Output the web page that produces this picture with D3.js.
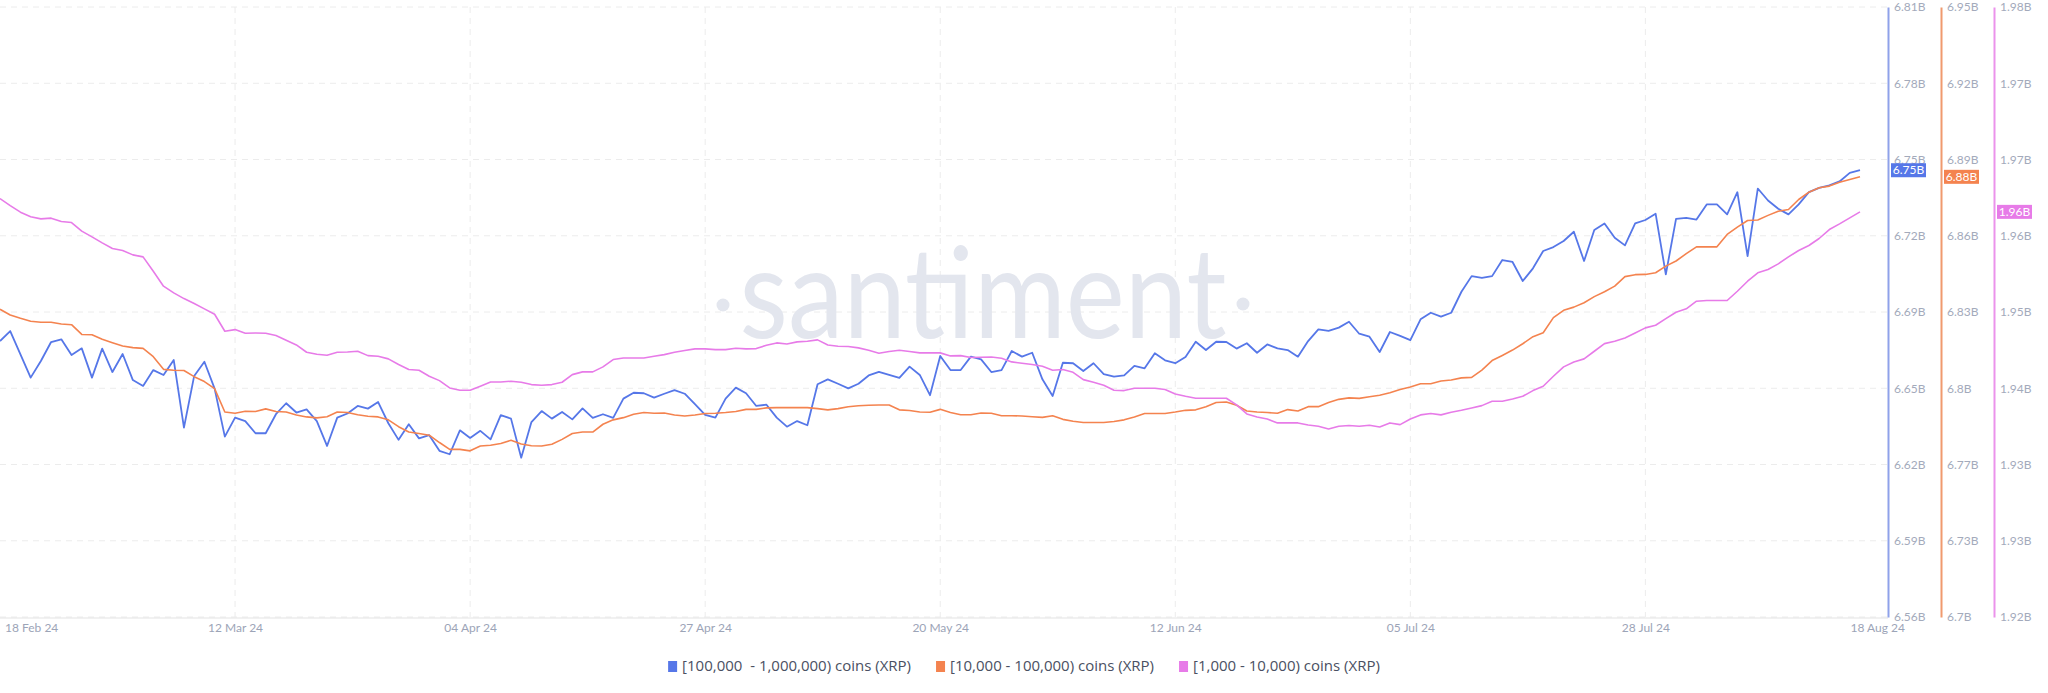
<!DOCTYPE html>
<html>
<head>
<meta charset="utf-8">
<script src="https://cdn.jsdelivr.net/npm/d3@7"></script>
<style>
  body { margin: 0; background: #fff; }
  svg { display: block; font-family: Lato, "Open Sans", sans-serif; }
</style>
</head>
<body>
<div id="viz"></div>
<script>
// daily values from 18 Feb 24, in billions of XRP
const startDate = "2024-02-18";

const blueValues = [
  6.6756, 6.6797, 6.6701, 6.6606, 6.6674, 6.6752, 6.6763, 6.6699, 6.6726, 6.6606, 6.6725, 6.6629, 6.6703, 6.6596, 6.6572, 6.6637, 6.6617, 6.6678, 6.6401, 6.6613, 6.6671, 6.6561, 6.6364, 6.6442, 6.6428, 6.6378, 6.6378,
  6.6456, 6.6501, 6.6463, 6.6476, 6.6428, 6.6326, 6.6442, 6.6459, 6.6490, 6.6479, 6.6506, 6.6419, 6.6351, 6.6415, 6.6357, 6.6370, 6.6306, 6.6292, 6.6390, 6.6359, 6.6388, 6.6353, 6.6452, 6.6438, 6.6278, 6.6424,
  6.6469, 6.6438, 6.6465, 6.6435, 6.6480, 6.6441, 6.6456, 6.6441, 6.6520, 6.6544, 6.6542, 6.6524, 6.6540, 6.6555, 6.6540, 6.6497, 6.6453, 6.6442, 6.6520, 6.6565, 6.6542, 6.6490, 6.6495, 6.6442, 6.6405, 6.6428,
  6.6411, 6.6579, 6.6599, 6.6581, 6.6562, 6.6581, 6.6615, 6.6630, 6.6617, 6.6605, 6.6651, 6.6617, 6.6534, 6.6695, 6.6637, 6.6637, 6.6692, 6.6681, 6.6629, 6.6637, 6.6715, 6.6692, 6.6708, 6.6599, 6.6531, 6.6667,
  6.6665, 6.6633, 6.6665, 6.6620, 6.6610, 6.6615, 6.6654, 6.6644, 6.6706, 6.6677, 6.6665, 6.6691, 6.6753, 6.6719, 6.6753, 6.6752, 6.6725, 6.6747, 6.6708, 6.6742, 6.6726, 6.6719, 6.6692, 6.6756, 6.6804, 6.6798,
  6.6811, 6.6835, 6.6786, 6.6774, 6.6711, 6.6793, 6.6777, 6.6760, 6.6845, 6.6872, 6.6856, 6.6872, 6.6958, 6.7022, 6.7015, 6.7022, 6.7088, 6.7080, 6.7002, 6.7054, 6.7125, 6.7141, 6.7166, 6.7204, 6.7084, 6.7211,
  6.7238, 6.7179, 6.7148, 6.7238, 6.7252, 6.7278, 6.7029, 6.7257, 6.7261, 6.7254, 6.7316, 6.7316, 6.7275, 6.7366, 6.7104, 6.7381, 6.7332, 6.7298, 6.7275, 6.7316, 6.7366, 6.7384, 6.7394, 6.7410, 6.7445, 6.7456
];

const orangeValues = [
  6.8261, 6.8238, 6.8224, 6.8212, 6.8208, 6.8208, 6.8201, 6.8198, 6.8158, 6.8157, 6.8138, 6.8124, 6.8111, 6.8104, 6.8101, 6.8067, 6.8015, 6.8011, 6.8010, 6.7985, 6.7965, 6.7936, 6.7840, 6.7835, 6.7843, 6.7842, 6.7853,
  6.7842, 6.7840, 6.7828, 6.7820, 6.7816, 6.7821, 6.7840, 6.7838, 6.7829, 6.7823, 6.7820, 6.7808, 6.7780, 6.7758, 6.7752, 6.7745, 6.7715, 6.7687, 6.7687, 6.7681, 6.7701, 6.7704, 6.7711, 6.7724, 6.7709, 6.7702,
  6.7701, 6.7708, 6.7728, 6.7752, 6.7758, 6.7758, 6.7790, 6.7808, 6.7817, 6.7831, 6.7838, 6.7835, 6.7836, 6.7828, 6.7824, 6.7828, 6.7834, 6.7835, 6.7838, 6.7842, 6.7851, 6.7851, 6.7857, 6.7858, 6.7858, 6.7858,
  6.7858, 6.7854, 6.7849, 6.7854, 6.7862, 6.7866, 6.7868, 6.7869, 6.7869, 6.7849, 6.7846, 6.7840, 6.7839, 6.7851, 6.7838, 6.7829, 6.7829, 6.7836, 6.7835, 6.7825, 6.7825, 6.7824, 6.7821, 6.7818, 6.7825, 6.7810,
  6.7802, 6.7797, 6.7797, 6.7797, 6.7801, 6.7808, 6.7820, 6.7834, 6.7834, 6.7834, 6.7840, 6.7847, 6.7849, 6.7862, 6.7879, 6.7881, 6.7868, 6.7844, 6.7840, 6.7838, 6.7835, 6.7850, 6.7844, 6.7862, 6.7862, 6.7879,
  6.7892, 6.7898, 6.7896, 6.7903, 6.7909, 6.7919, 6.7932, 6.7943, 6.7956, 6.7956, 6.7967, 6.7971, 6.7980, 6.7982, 6.8012, 6.8051, 6.8072, 6.8094, 6.8120, 6.8149, 6.8165, 6.8227, 6.8257, 6.8270, 6.8288, 6.8313,
  6.8333, 6.8356, 6.8395, 6.8403, 6.8404, 6.8411, 6.8438, 6.8459, 6.8489, 6.8517, 6.8517, 6.8517, 6.8568, 6.8598, 6.8625, 6.8627, 6.8646, 6.8663, 6.8670, 6.8711, 6.8741, 6.8759, 6.8766, 6.8782, 6.8793, 6.8804
];

const pinkValues = [
  1.96116, 1.96047, 1.95982, 1.95936, 1.95916, 1.95923, 1.95890, 1.95880, 1.95795, 1.95739, 1.95680, 1.95624, 1.95605, 1.95562, 1.95542, 1.95401, 1.95254, 1.95188, 1.95132, 1.95083, 1.95031, 1.94978, 1.94811, 1.94827, 1.94791, 1.94794, 1.94791,
  1.94768, 1.94722, 1.94676, 1.94604, 1.94584, 1.94575, 1.94604, 1.94607, 1.94614, 1.94571, 1.94565, 1.94539, 1.94483, 1.94434, 1.94427, 1.94368, 1.94325, 1.94253, 1.94230, 1.94230, 1.94270, 1.94312, 1.94312, 1.94319, 1.94309, 1.94286,
  1.94279, 1.94286, 1.94309, 1.94384, 1.94411, 1.94411, 1.94460, 1.94532, 1.94548, 1.94548, 1.94548, 1.94565, 1.94581, 1.94604, 1.94621, 1.94637, 1.94637, 1.94630, 1.94630, 1.94644, 1.94637, 1.94640, 1.94673, 1.94696, 1.94686, 1.94706,
  1.94712, 1.94726, 1.94676, 1.94663, 1.94660, 1.94647, 1.94624, 1.94594, 1.94611, 1.94624, 1.94611, 1.94598, 1.94598, 1.94598, 1.94568, 1.94571, 1.94552, 1.94555, 1.94558, 1.94545, 1.94509, 1.94496, 1.94483, 1.94466, 1.94427, 1.94434,
  1.94407, 1.94335, 1.94309, 1.94279, 1.94230, 1.94227, 1.94250, 1.94250, 1.94250, 1.94237, 1.94194, 1.94171, 1.94152, 1.94152, 1.94152, 1.94152, 1.94086, 1.93997, 1.93968, 1.93948, 1.93909, 1.93909, 1.93909, 1.93889, 1.93876, 1.93850,
  1.93876, 1.93883, 1.93876, 1.93886, 1.93869, 1.93909, 1.93892, 1.93948, 1.93988, 1.94001, 1.93988, 1.94014, 1.94033, 1.94056, 1.94079, 1.94122, 1.94122, 1.94145, 1.94171, 1.94227, 1.94270, 1.94368, 1.94460, 1.94509, 1.94539, 1.94614,
  1.94689, 1.94712, 1.94745, 1.94794, 1.94844, 1.94870, 1.94935, 1.94998, 1.95031, 1.95106, 1.95113, 1.95113, 1.95113, 1.95204, 1.95303, 1.95385, 1.95418, 1.95473, 1.95542, 1.95605, 1.95654, 1.95723, 1.95811, 1.95867, 1.95926, 1.95985
];

const seriesNames = [
  "[100,000  - 1,000,000) coins (XRP)",
  "[10,000 - 100,000) coins (XRP)",
  "[1,000 - 10,000) coins (XRP)"
];

const gridDates = ["2024-03-12", "2024-04-04", "2024-04-27", "2024-05-20", "2024-06-12", "2024-07-05", "2024-07-28"];
const edgeDates = ["2024-02-18", "2024-08-18"];

const blueTickLabels = ["6.56B", "6.59B", "6.62B", "6.65B", "6.69B", "6.72B", "6.75B", "6.78B", "6.81B"];
const orangeTickLabels = ["6.7B", "6.73B", "6.77B", "6.8B", "6.83B", "6.86B", "6.89B", "6.92B", "6.95B"];
const pinkTickLabels = ["1.92B", "1.93B", "1.93B", "1.94B", "1.95B", "1.96B", "1.97B", "1.97B", "1.98B"];

const blueDomain = [6.5625, 6.8125];
const orangeDomain = [6.70, 6.95];
const pinkDomain = [1.92, 1.98];

// ---- layout
const W = 2048, H = 693;
const plotTop = 7, plotBottom = 617, plotRight = 1888;
const parse = d3.timeParse("%Y-%m-%d");
const fmt = d3.timeFormat("%d %b %y");
const start = parse(startDate);
const dates = blueValues.map((_, i) => d3.timeDay.offset(start, i));
const tickColor = "#9ca4b7";

const x = d3.scaleTime()
  .domain([start, dates[dates.length - 1]])
  .range([0, 1860]);

const series = [
  { name: seriesNames[0], values: blueValues, domain: blueDomain, labels: blueTickLabels, color: "#5677e8", axisColor: "#8fa2ea", axisX: 1888 },
  { name: seriesNames[1], values: orangeValues, domain: orangeDomain, labels: orangeTickLabels, color: "#f4834f", axisColor: "#f09a6e", axisX: 1941 },
  { name: seriesNames[2], values: pinkValues, domain: pinkDomain, labels: pinkTickLabels, color: "#e77be8", axisColor: "#eb93eb", axisX: 1994 }
];
series.forEach(s => {
  s.y = d3.scaleLinear().domain(s.domain).range([plotBottom, plotTop]);
  s.ticks = d3.range(9).map(i => s.domain[0] + i * (s.domain[1] - s.domain[0]) / 8);
});

const svg = d3.select("#viz").append("svg")
  .attr("width", W)
  .attr("height", H);

// horizontal grid
svg.append("g")
  .selectAll("line")
  .data(series[0].ticks)
  .join("line")
  .attr("x1", 0).attr("x2", plotRight)
  .attr("y1", d => series[0].y(d)).attr("y2", d => series[0].y(d))
  .attr("stroke", "#ececec")
  .attr("stroke-dasharray", "6,5");

// vertical grid
svg.append("g")
  .selectAll("line")
  .data(gridDates.map(parse))
  .join("line")
  .attr("x1", d => x(d)).attr("x2", d => x(d))
  .attr("y1", plotTop).attr("y2", plotBottom)
  .attr("stroke", "#ececec")
  .attr("stroke-dasharray", "6,5");

// watermark
const wm = svg.append("g").attr("fill", "#e3e6ee");
wm.append("text")
  .attr("x", 983).attr("y", 338)
  .attr("text-anchor", "middle")
  .attr("font-size", 126)
  .attr("font-weight", 400)
  .attr("textLength", 487)
  .attr("lengthAdjust", "spacingAndGlyphs")
  .text("santiment");
wm.append("circle").attr("cx", 723).attr("cy", 305).attr("r", 6.5);
wm.append("circle").attr("cx", 1243).attr("cy", 304).attr("r", 6.5);

// bottom line
svg.append("line")
  .attr("x1", 0).attr("x2", plotRight)
  .attr("y1", plotBottom + 1).attr("y2", plotBottom + 1)
  .attr("stroke", "#e3e3e3");

// x axis labels
const xAxis = d3.axisBottom(x)
  .tickValues(gridDates.map(parse))
  .tickSize(0)
  .tickPadding(0)
  .tickFormat(fmt);
const gx = svg.append("g")
  .attr("transform", `translate(0,${plotBottom + 15})`)
  .call(xAxis);
gx.select(".domain").remove();
gx.selectAll("text")
  .attr("dy", "0")
  .attr("font-size", 12)
  .attr("font-family", "Lato, sans-serif")
  .attr("fill", tickColor);

svg.append("text")
  .attr("x", 5).attr("y", plotBottom + 15)
  .attr("font-size", 12).attr("fill", tickColor)
  .text(fmt(parse(edgeDates[0])));
svg.append("text")
  .attr("x", 1905).attr("y", plotBottom + 15)
  .attr("text-anchor", "end")
  .attr("font-size", 12).attr("fill", tickColor)
  .text(fmt(parse(edgeDates[1])));

// lines
series.forEach((s, i) => {
  const line = d3.line()
    .x((d, j) => x(dates[j]))
    .y(d => s.y(d));
  svg.append("path")
    .datum(s.values)
    .attr("fill", "none")
    .attr("stroke", s.color)
    .attr("stroke-width", i === 0 ? 1.8 : 1.6)
    .attr("stroke-linejoin", "round")
    .attr("d", line);
});

// right axes
series.forEach(s => {
  const axis = d3.axisRight(s.y)
    .tickValues(s.ticks)
    .tickSize(0)
    .tickPadding(6)
    .tickFormat((d, i) => s.labels[i]);
  const g = svg.append("g")
    .attr("transform", `translate(${s.axisX},0)`)
    .call(axis);
  g.select(".domain")
    .attr("stroke", s.axisColor)
    .attr("stroke-width", 2);
  g.selectAll("text")
    .attr("font-size", 12)
    .attr("font-family", "Lato, sans-serif")
    .attr("fill", "#a3aabb");

  // last value badge
  const last = s.values[s.values.length - 1];
  const by = s.y(last);
  const badge = svg.append("g").attr("transform", `translate(${s.axisX + 3},${by})`);
  badge.append("rect")
    .attr("x", 0).attr("y", -7)
    .attr("width", 35).attr("height", 14)
    .attr("fill", s.color);
  badge.append("text")
    .attr("x", 17.5).attr("y", 0)
    .attr("dy", "0.35em")
    .attr("text-anchor", "middle")
    .attr("font-size", 12)
    .attr("fill", "#fff")
    .text(last.toFixed(2) + "B");
});

// legend
const legend = svg.append("g");
let lx = 0;
series.forEach(s => {
  const g = legend.append("g");
  g.append("rect")
    .attr("x", 0).attr("y", -5)
    .attr("width", 9).attr("height", 11)
    .attr("fill", s.color);
  const t = g.append("text")
    .attr("x", 14).attr("y", 0)
    .attr("dy", "0.35em")
    .attr("font-size", 15)
    .attr("font-family", "'Open Sans', sans-serif")
    .attr("fill", "#4a5062")
    .style("white-space", "pre")
    .text(s.name);
  const w = 14 + t.node().getComputedTextLength();
  g.attr("transform", `translate(${lx},0)`);
  lx += w + 25;
});
const totalW = lx - 25;
legend.attr("transform", `translate(${1024 - totalW / 2},666)`);
</script>
</body>
</html>
